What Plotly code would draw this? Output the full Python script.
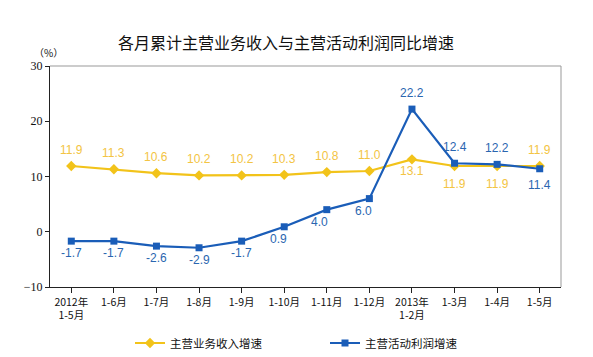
import plotly.graph_objects as go

categories = ["2012年<br>1-5月", "1-6月", "1-7月", "1-8月", "1-9月", "1-10月", "1-11月",
              "1-12月", "2013年<br>1-2月", "1-3月", "1-4月", "1-5月"]
revenue = [11.9, 11.3, 10.6, 10.2, 10.2, 10.3, 10.8, 11.0, 13.1, 11.9, 11.9, 11.9]
profit = [-1.7, -1.7, -2.6, -2.9, -1.7, 0.9, 4.0, 6.0, 22.2, 12.4, 12.2, 11.4]

# label offsets in pixels (style only)
rev_dy = [16, 16, 16, 16, 16, 16, 16, 16, -12, -18, -18, 16]
rev_dx = [0] * 12
prof_dy = [-12, -12, -12, -12, -12, -12, -12, -12, 16, 16, 16, -16]
prof_dx = [0, 0, 0, 0, 0, -6, -7, -6, 0, 0, 0, 0]

yellow = "#F2C31A"
yellow_txt = "#F3C443"
blue = "#1A5DB8"
blue_txt = "#2A66B0"

x = list(range(len(categories)))
fig = go.Figure()
fig.add_trace(go.Scatter(
    x=x, y=revenue, mode="lines+markers", name="主营业务收入增速",
    line=dict(color=yellow, width=2.2), marker=dict(symbol="diamond", size=8, color=yellow),
    cliponaxis=False))
fig.add_trace(go.Scatter(
    x=x, y=profit, mode="lines+markers", name="主营活动利润增速",
    line=dict(color=blue, width=2.2), marker=dict(symbol="square", size=7, color=blue),
    cliponaxis=False))

for xi, v, dx, dy in zip(x, revenue, rev_dx, rev_dy):
    fig.add_annotation(x=xi, y=v, text=f"{v:.1f}", showarrow=False, xshift=dx, yshift=dy,
                       xanchor="center", yanchor="middle",
                       font=dict(color=yellow_txt, size=12, family="Liberation Sans"))
for xi, v, dx, dy in zip(x, profit, prof_dx, prof_dy):
    fig.add_annotation(x=xi, y=v, text=f"{v:.1f}", showarrow=False, xshift=dx, yshift=dy,
                       xanchor="center", yanchor="middle",
                       font=dict(color=blue_txt, size=12, family="Liberation Sans"))

fig.update_layout(
    width=593, height=357,
    margin=dict(l=42, r=40, t=58, b=78),
    paper_bgcolor="white", plot_bgcolor="white",
    title=dict(text="各月累计主营业务收入与主营活动利润同比增速", x=278/593, xanchor="center",
               y=1 - 35/357, yanchor="middle",
               font=dict(family="Noto Sans CJK SC", size=16, color="#111")),
    font=dict(family="Noto Sans CJK SC", color="#111"),
    xaxis=dict(range=[-0.5, 11.5], tickmode="array", tickvals=x, ticktext=categories,
               showline=True, linecolor="#222", linewidth=1, mirror=False,
               ticks="outside", ticklen=5, tickcolor="#222", tickson="boundaries",
               showgrid=False, zeroline=False, automargin=False,
               tickfont=dict(size=10.5, family="Noto Sans CJK SC"), tickangle=0),
    yaxis=dict(range=[-10, 30], dtick=10, showline=True, linecolor="#222", linewidth=1,
               ticks="outside", ticklen=4, tickcolor="#222", showgrid=False, zeroline=False,
               automargin=False, tickfont=dict(size=12, family="Liberation Serif")),
    legend=dict(orientation="h", xref="container", yref="container",
                x=122/593, xanchor="left", y=1 - 335/357, yanchor="middle",
                font=dict(size=11.5, family="Noto Sans CJK SC"), entrywidth=150,
                itemwidth=30, bgcolor="rgba(0,0,0,0)"),
    showlegend=True,
)
# gray top/right frame
fig.add_shape(type="line", xref="paper", yref="paper", x0=0, x1=1, y0=1, y1=1,
              line=dict(color="#999", width=1))
fig.add_shape(type="line", xref="paper", yref="paper", x0=1, x1=1, y0=0, y1=1,
              line=dict(color="#999", width=1))
fig.add_annotation(text="（%）", xref="paper", yref="paper", x=-0.002, y=1.02,
                   xanchor="center", yanchor="bottom", showarrow=False,
                   font=dict(size=10, family="Noto Sans CJK SC", color="#111"))
fig.write_html("out.html")
